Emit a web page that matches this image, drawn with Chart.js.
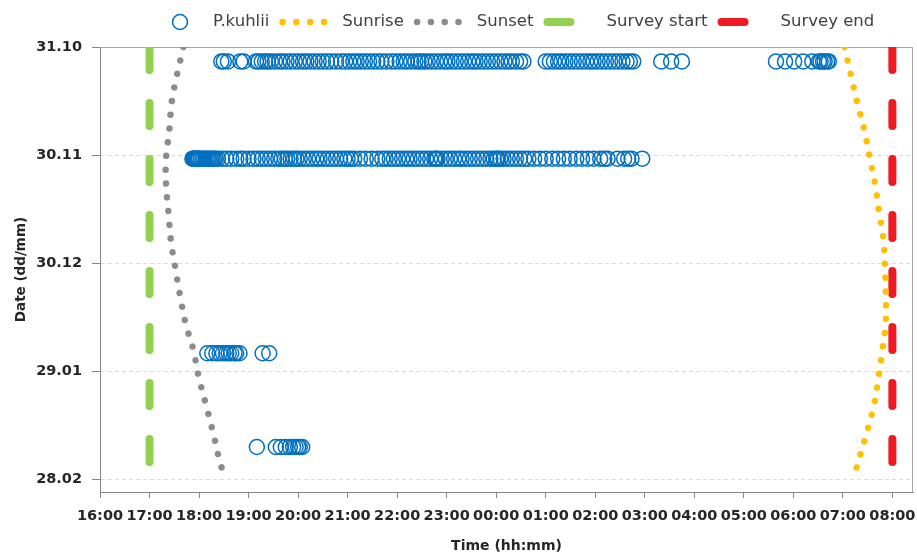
<!DOCTYPE html>
<html>
<head>
<meta charset="utf-8">
<title>P.kuhlii - survey nights</title>
<script src="https://cdn.jsdelivr.net/npm/chart.js@4.4.1/dist/chart.umd.min.js"></script>
<style>
  html, body { margin: 0; padding: 0; background: #fff; }
</style>
</head>
<body>
<canvas id="grafico" width="917" height="555"></canvas>
<script>
// tick labels
const xTickLabels = ['16:00', '17:00', '18:00', '19:00', '20:00', '21:00', '22:00', '23:00', '00:00',
    '01:00', '02:00', '03:00', '04:00', '05:00', '06:00', '07:00', '08:00'];
const yTickLabels = ['31.10', '30.11', '30.12', '29.01', '28.02'];
const xAxisEnd = '08:25';
const yAxisEndDays = 123.5;

// P.kuhlii passes, one list per survey night
const sightingDates = ['04.11', '01.12', '24.01', '19.02'];
const nov04Times = ['18:27', '18:30', '18:35', '18:50', '18:54',
    '19:09', '19:12', '19:16', '19:20', '19:23', '19:27', '19:32', '19:37', '19:41', '19:46', '19:51', '19:56',
    '20:01', '20:06', '20:10', '20:15', '20:20', '20:25', '20:30', '20:35', '20:40', '20:46', '20:52', '20:57',
    '21:02', '21:07', '21:11', '21:16', '21:21', '21:26', '21:31', '21:36', '21:41', '21:47', '21:53', '21:58',
    '22:03', '22:08', '22:12', '22:17', '22:22', '22:26', '22:29', '22:33', '22:37', '22:42', '22:47', '22:52', '22:57',
    '23:01', '23:06', '23:11', '23:16', '23:21', '23:26', '23:31', '23:35', '23:40', '23:45', '23:50', '23:55',
    '00:00', '00:05', '00:10', '00:15', '00:19', '00:24', '00:29', '00:33',
    '01:00', '01:05', '01:10', '01:15', '01:19', '01:24', '01:29', '01:34', '01:39', '01:44', '01:49', '01:54', '01:58',
    '02:03', '02:08', '02:13', '02:18', '02:23', '02:28', '02:33', '02:38', '02:42', '02:46',
    '03:20', '03:32', '03:45',
    '05:39', '05:50', '06:01', '06:12', '06:23', '06:31', '06:33', '06:36', '06:38', '06:41', '06:43'];
const dec01Times = ['17:52', '17:53', '17:54', '17:55', '17:56', '17:57', '17:58', '17:59', '18:00', '18:02',
    '18:04', '18:06', '18:08', '18:10', '18:12', '18:14', '18:16', '18:18', '18:20', '18:23',
    '18:28', '18:33', '18:39', '18:45', '18:50', '18:54', '19:00', '19:06', '19:11', '19:16', '19:21', '19:26',
    '19:31', '19:36', '19:40', '19:44', '19:47', '19:51', '19:55', '19:58', '20:02', '20:07', '20:12', '20:17',
    '20:22', '20:26', '20:31', '20:36', '20:41', '20:46', '20:51', '20:56', '21:00', '21:04', '21:08', '21:15',
    '21:22', '21:29', '21:36', '21:42', '21:46', '21:51', '21:56', '22:01', '22:06', '22:11', '22:15', '22:20',
    '22:25', '22:30', '22:35', '22:40', '22:45', '22:47', '22:49', '22:54', '22:59', '23:04', '23:09', '23:14',
    '23:18', '23:23', '23:28', '23:33', '23:38', '23:43', '23:48', '23:53', '23:57', '00:00', '00:02', '00:05',
    '00:09', '00:14', '00:19', '00:24', '00:29', '00:34', '00:39', '00:46', '00:53', '01:00', '01:08', '01:15',
    '01:22', '01:29', '01:37', '01:44', '01:51', '01:58', '02:06', '02:11', '02:15', '02:27', '02:35', '02:40',
    '02:44', '02:57'];
const jan24Times = ['18:10', '18:16', '18:21', '18:25', '18:29', '18:33', '18:36', '18:39', '18:43', '18:45',
    '18:49', '19:17', '19:25'];
const feb19Times = ['19:10', '19:33', '19:39', '19:45', '19:50', '19:54', '19:57', '20:00', '20:02', '20:05'];
const sightingTimes = [nov04Times, dec01Times, jan24Times, feb19Times];

// sunrise / sunset
const sunriseDates = ['31.10', '08.11', '15.11', '23.11', '30.11', '08.12', '16.12', '23.12', '31.12',
    '07.01', '15.01', '23.01', '31.01', '07.02', '15.02', '22.02', '26.02'];
const sunriseTimes = ['07:02', '07:10', '07:17', '07:26', '07:32', '07:39', '07:44', '07:49', '07:51',
    '07:52', '07:52', '07:48', '07:43', '07:38', '07:29', '07:20', '07:15'];
const sunsetDates = ['31.10', '08.11', '15.11', '23.11', '01.12', '08.12', '16.12', '24.12', '31.12',
    '08.01', '16.01', '23.01', '31.01', '07.02', '15.02', '22.02', '26.02'];
const sunsetTimes = ['17:41', '17:33', '17:27', '17:24', '17:20', '17:20', '17:23', '17:26', '17:31',
    '17:37', '17:44', '17:53', '18:00', '18:08', '18:17', '18:24', '18:29'];

// survey window
const surveyDates = ['31.10', '28.02'];
const surveyStart = '17:00';
const surveyEnd = '08:00';

// hours after 16:00 (the night wraps past midnight)
function hoursFrom16(t) {
    const [h, m] = t.split(':').map(Number);
    let v = h + m / 60 - 16;
    if (v < 0) v += 24;
    return v;
}
// days after 31.10
function dayOf(d) {
    const [dd, mm] = d.split('.').map(Number);
    const year = mm >= 10 ? 2014 : 2015;
    return (Date.UTC(year, mm - 1, dd) - Date.UTC(2014, 9, 31)) / 86400000;
}

const sightings = [];
sightingDates.forEach((d, i) => {
    sightingTimes[i].forEach(t => sightings.push({ x: hoursFrom16(t), y: dayOf(d) }));
});
const sunrise = sunriseDates.map((d, i) => ({ x: hoursFrom16(sunriseTimes[i]), y: dayOf(d) }));
const sunset = sunsetDates.map((d, i) => ({ x: hoursFrom16(sunsetTimes[i]), y: dayOf(d) }));
const startLine = surveyDates.map(d => ({ x: hoursFrom16(surveyStart), y: dayOf(d) }));
const endLine = surveyDates.map(d => ({ x: hoursFrom16(surveyEnd), y: dayOf(d) }));

const FONT = '"DejaVu Sans", sans-serif';
const GRIS_EJE = '#868686';

// top and right edge of the plot frame
const marcoPlugin = {
    id: 'marco',
    beforeDatasetsDraw(chart) {
        const a = chart.chartArea;
        const ctx = chart.ctx;
        ctx.save();
        ctx.strokeStyle = '#a6a6a6';
        ctx.lineWidth = 1;
        ctx.beginPath();
        ctx.moveTo(Math.round(a.left) + 0.5, Math.round(a.top) + 0.5);
        ctx.lineTo(Math.round(a.right) - 0.5, Math.round(a.top) + 0.5);
        ctx.lineTo(Math.round(a.right) - 0.5, Math.round(a.bottom));
        ctx.stroke();
        ctx.restore();
    }
};

// legend on one row above the plot
const leyendaPlugin = {
    id: 'leyenda',
    afterDraw(chart) {
        const ctx = chart.ctx;
        const y = 22;
        let x = 172;
        ctx.save();
        ctx.font = '16.5px ' + FONT;
        ctx.textBaseline = 'middle';
        ctx.fillStyle = '#404040';
        chart.data.datasets.forEach(ds => {
            let textX;
            if (ds.showLine) {
                ctx.strokeStyle = ds.borderColor;
                ctx.lineWidth = ds.borderWidth;
                ctx.lineCap = 'round';
                ctx.setLineDash(ds.borderDash);
                ctx.beginPath();
                ctx.moveTo(x + ds.borderWidth / 2, y);
                ctx.lineTo(x + 48, y);
                ctx.stroke();
                ctx.setLineDash([]);
                textX = x + 63;
            } else {
                ctx.strokeStyle = ds.pointBorderColor;
                ctx.lineWidth = ds.pointBorderWidth;
                ctx.beginPath();
                ctx.arc(x + 8, y, ds.pointRadius, 0, Math.PI * 2);
                ctx.stroke();
                textX = x + 41;
            }
            ctx.fillText(ds.label, textX, y);
            x = textX + ctx.measureText(ds.label).width + 10;
        });
        ctx.restore();
    }
};

new Chart(document.getElementById('grafico'), {
    type: 'scatter',
    data: {
        datasets: [{
            label: 'P.kuhlii',
            data: sightings,
            showLine: false,
            pointStyle: 'circle',
            pointRadius: 7.5,
            pointHoverRadius: 7.5,
            pointBorderWidth: 1.5,
            pointBorderColor: '#0070c0',
            pointBackgroundColor: 'rgba(0,0,0,0)',
            borderColor: '#0070c0',
            backgroundColor: 'rgba(0,0,0,0)'
        }, {
            label: 'Sunrise',
            data: sunrise,
            showLine: true,
            pointRadius: 0,
            borderColor: '#ffc000',
            borderWidth: 6.5,
            borderDash: [0.01, 13.8],
            borderCapStyle: 'round',
            tension: 0.4,
            clip: 0
        }, {
            label: 'Sunset',
            data: sunset,
            showLine: true,
            pointRadius: 0,
            borderColor: '#8c8c8c',
            borderWidth: 6.5,
            borderDash: [0.01, 13.8],
            borderCapStyle: 'round',
            tension: 0.4,
            clip: 0
        }, {
            label: 'Survey start',
            data: startLine,
            showLine: true,
            pointRadius: 0,
            borderColor: '#92d050',
            borderWidth: 8,
            borderDash: [23, 33],
            borderCapStyle: 'round',
            clip: 0
        }, {
            label: 'Survey end',
            data: endLine,
            showLine: true,
            pointRadius: 0,
            borderColor: '#ed1c24',
            borderWidth: 8,
            borderDash: [23, 33],
            borderCapStyle: 'round',
            clip: 0
        }]
    },
    options: {
        responsive: false,
        devicePixelRatio: 1,
        animation: false,
        layout: { autoPadding: false, padding: { top: 47, right: 4, left: 0, bottom: 0 } },
        plugins: {
            legend: { display: false },
            tooltip: { enabled: false }
        },
        scales: {
            x: {
                type: 'linear',
                min: 0,
                max: hoursFrom16(xAxisEnd),
                afterBuildTicks: axis => {
                    axis.ticks = xTickLabels.map(t => ({ value: hoursFrom16(t) }));
                },
                afterFit: scale => {
                    scale.height = 63;
                    scale.paddingLeft = 0;
                    scale.paddingRight = 0;
                },
                ticks: {
                    autoSkip: false,
                    maxRotation: 0,
                    minRotation: 0,
                    padding: 10,
                    color: '#262626',
                    font: { family: FONT, size: 14.5, weight: 'bold' },
                    callback: (v, i) => xTickLabels[i]
                },
                grid: { drawOnChartArea: false, drawTicks: true, tickLength: 6, color: GRIS_EJE },
                border: { color: GRIS_EJE },
                title: {
                    display: true,
                    text: 'Time (hh:mm)',
                    color: '#262626',
                    font: { family: FONT, size: 14, weight: 'bold' },
                    padding: { top: 0, bottom: 0 }
                }
            },
            y: {
                type: 'linear',
                reverse: true,
                min: 0,
                max: yAxisEndDays,
                afterBuildTicks: axis => {
                    axis.ticks = yTickLabels.map(d => ({ value: dayOf(d) }));
                },
                afterFit: scale => {
                    scale.width = 100;
                    scale.paddingTop = 0;
                    scale.paddingBottom = 0;
                },
                ticks: {
                    padding: 10,
                    color: '#262626',
                    font: { family: FONT, size: 14.5, weight: 'bold' },
                    callback: (v, i) => yTickLabels[i]
                },
                grid: { color: '#d9d9d9', tickColor: GRIS_EJE, tickLength: 8 },
                border: { color: GRIS_EJE, dash: [4, 3] },
                title: {
                    display: true,
                    text: 'Date (dd/mm)',
                    color: '#262626',
                    font: { family: FONT, size: 13.5, weight: 'bold' },
                    padding: { top: 13, bottom: 0 }
                }
            }
        }
    },
    plugins: [marcoPlugin, leyendaPlugin]
});
</script>
</body>
</html>
